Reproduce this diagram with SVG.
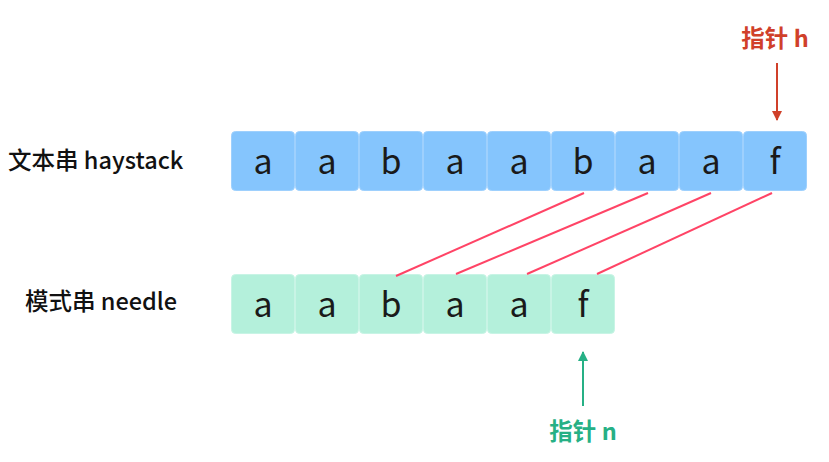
<svg xmlns="http://www.w3.org/2000/svg" width="829" height="462" viewBox="0 0 829 462">
<style>
.t{font-family:"Noto Sans CJK SC","Noto Sans",sans-serif;}
.hb{fill:#85c5fd;stroke:#9ed0fd;stroke-width:1;}
.nb{fill:#b4f0db;stroke:#c8f4e5;stroke-width:1;}
.ch{font-size:34px;fill:#1a1a1a;text-anchor:middle;}
.lbl{font-size:23.5px;fill:#111;font-weight:500;}
.ln{stroke:#ff4466;stroke-width:2;fill:none;}
</style>
<defs>
<marker id="ah" markerWidth="10" markerHeight="10" refX="9" refY="5" orient="auto" markerUnits="userSpaceOnUse"><path d="M0,0 L10,5 L0,10 z" fill="#d0402a"/></marker>
<marker id="an" markerWidth="10" markerHeight="10" refX="9" refY="5" orient="auto" markerUnits="userSpaceOnUse"><path d="M0,0 L10,5 L0,10 z" fill="#26b085"/></marker>
</defs>
<rect width="829" height="462" fill="#fff"/>
<g id="label-haystack"><text class="t lbl" x="8" y="169">文本串 haystack</text></g>
<g id="label-needle"><text class="t lbl" x="25" y="310">模式串 needle</text></g>
<g id="haystack" class="t">
<rect class="hb" x="231.5" y="131.5" width="63" height="59" rx="4"/><text class="ch" x="263" y="174">a</text>
<rect class="hb" x="295.5" y="131.5" width="63" height="59" rx="4"/><text class="ch" x="327" y="174">a</text>
<rect class="hb" x="359.5" y="131.5" width="63" height="59" rx="4"/><text class="ch" x="391" y="174">b</text>
<rect class="hb" x="423.5" y="131.5" width="63" height="59" rx="4"/><text class="ch" x="455" y="174">a</text>
<rect class="hb" x="487.5" y="131.5" width="63" height="59" rx="4"/><text class="ch" x="519" y="174">a</text>
<rect class="hb" x="551.5" y="131.5" width="63" height="59" rx="4"/><text class="ch" x="583" y="174">b</text>
<rect class="hb" x="615.5" y="131.5" width="63" height="59" rx="4"/><text class="ch" x="647" y="174">a</text>
<rect class="hb" x="679.5" y="131.5" width="63" height="59" rx="4"/><text class="ch" x="711" y="174">a</text>
<rect class="hb" x="743.5" y="131.5" width="63" height="59" rx="4"/><text class="ch" x="775" y="174">f</text>
</g>
<g id="needle" class="t">
<rect class="nb" x="231.5" y="274.5" width="63" height="59" rx="4"/><text class="ch" x="263" y="317">a</text>
<rect class="nb" x="295.5" y="274.5" width="63" height="59" rx="4"/><text class="ch" x="327" y="317">a</text>
<rect class="nb" x="359.5" y="274.5" width="63" height="59" rx="4"/><text class="ch" x="391" y="317">b</text>
<rect class="nb" x="423.5" y="274.5" width="63" height="59" rx="4"/><text class="ch" x="455" y="317">a</text>
<rect class="nb" x="487.5" y="274.5" width="63" height="59" rx="4"/><text class="ch" x="519" y="317">a</text>
<rect class="nb" x="551.5" y="274.5" width="63" height="59" rx="4"/><text class="ch" x="583" y="317">f</text>
</g>
<g id="connectors">
<line class="ln" x1="584" y1="193" x2="396" y2="276"/>
<line class="ln" x1="648" y1="193" x2="456" y2="274"/>
<line class="ln" x1="711" y1="193" x2="527" y2="274"/>
<line class="ln" x1="772" y1="193" x2="597" y2="274"/>
<line x1="777" y1="63" x2="777" y2="120" stroke="#d0402a" stroke-width="2" marker-end="url(#ah)"/>
<line x1="583" y1="406" x2="583" y2="352" stroke="#26b085" stroke-width="2" marker-end="url(#an)"/>
</g>
<g id="pointer-h"><text class="t" x="775" y="47" font-size="23.5" font-weight="bold" fill="#d0402a" text-anchor="middle">指针 h</text></g>
<g id="pointer-n"><text class="t" x="583" y="440" font-size="23.5" font-weight="bold" fill="#26b085" text-anchor="middle">指针 n</text></g>
</svg>
